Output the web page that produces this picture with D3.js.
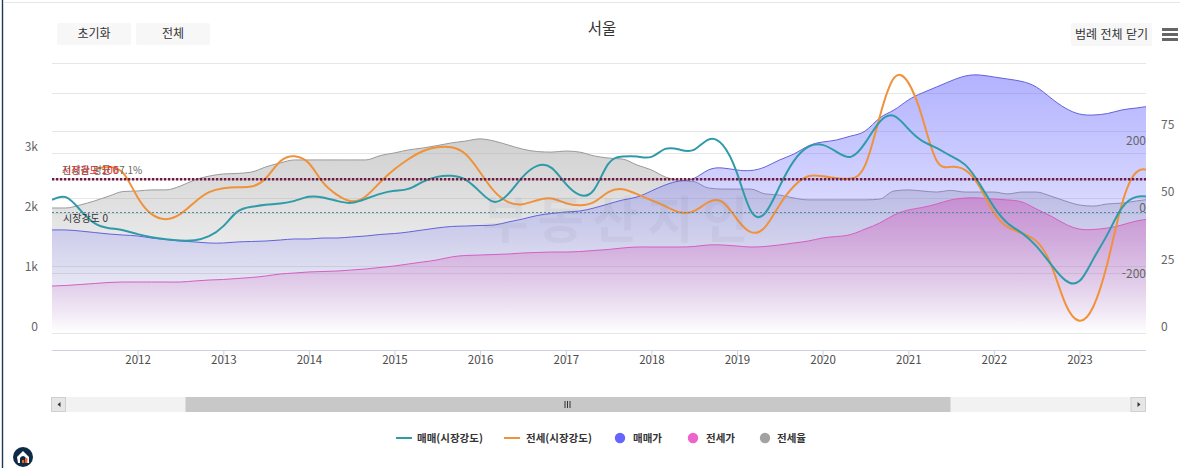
<!DOCTYPE html>
<html lang="ko">
<head>
<meta charset="utf-8">
<title>서울</title>
<script src="https://cdn.jsdelivr.net/npm/d3@7"></script>
<style>
html,body{margin:0;padding:0;background:#fff;overflow:hidden}
svg{display:block}
text{font-family:"Noto Sans CJK KR","Noto Sans",sans-serif}
</style>
</head>
<body>
<div id="chart"></div>
<script>
// ---- data (one sample every two months, starting Jan 2011) ----
const chartTitle = "서울";
const startDate = Date.UTC(2011, 0, 1);
const endDate = Date.UTC(2023, 9, 12);
const saleStrength = [38,46,8,-32,-47,-53,-65,-74,-80,-84,-83,-71,-41,2,17,23,27,35,47,45,35,29,41,56,65,71,92,107,110,98,62,32,56,107,140,134,86,53,68,146,168,168,167,191,189,188,219,203,119,5,-2,77,155,197,203,182,167,209,272,290,251,215,194,170,143,86,17,-32,-62,-101,-155,-203,-206,-140,-65,14,47,47];
const rentStrength = [null,null,null,131,137,118,46,-5,-20,-5,31,61,73,76,78,103,154,169,148,91,53,34,49,91,130,160,184,196,196,175,121,64,31,25,37,42,28,22,31,61,70,55,37,19,1,4,31,31,-20,-59,-44,22,79,109,109,103,102,142,287,404,390,287,157,137,127,77,-1,-44,-62,-86,-155,-272,-325,-283,-151,25,121,124];
const salePrice = [1717,1717,1700,1675,1650,1633,1617,1583,1558,1533,1517,1500,1500,1517,1525,1533,1550,1567,1567,1583,1583,1600,1617,1642,1658,1683,1717,1750,1775,1783,1792,1800,1850,1900,1958,1992,2017,2033,2083,2150,2217,2267,2367,2467,2533,2575,2717,2750,2717,2708,2767,2883,2983,3117,3183,3217,3283,3367,3583,3717,3883,4000,4100,4200,4283,4300,4267,4233,4192,4100,3917,3750,3650,3633,3658,3717,3750,3783];
const rentPrice = [783,792,808,825,842,850,850,850,850,850,867,883,892,908,925,950,983,1000,1017,1025,1033,1050,1067,1092,1117,1150,1183,1217,1267,1292,1300,1308,1317,1333,1342,1350,1350,1358,1375,1392,1417,1433,1433,1433,1433,1442,1467,1467,1450,1433,1442,1467,1500,1533,1583,1608,1642,1733,1833,1967,2050,2092,2150,2217,2250,2250,2233,2217,2183,2067,1950,1817,1733,1725,1750,1800,1867,1900];
const rentRatio = [46.3,46.3,47.4,48.9,50.7,52.4,52.6,53,53,54.4,56.7,58.1,58.9,59.1,59.6,61.5,63,64.1,64.1,64.1,64.1,64.1,64.1,65.7,66.7,67.8,68.5,69.4,70.4,71.1,71.9,71.1,69.6,68.1,67.2,67,67.4,67,65.6,64.8,64.4,62.2,60.4,57.8,56.5,56.1,53.7,53.3,53.3,53.3,51.5,51.1,50,49.3,49.3,49.3,49.3,49.3,49.6,52.6,53,52.6,52.2,52.8,52.2,52.2,52.2,51.5,52.2,52.2,50.7,48.9,47.4,47,47.8,48.1,48.9,49.6];
const yearTicks = [2012,2013,2014,2015,2016,2017,2018,2019,2020,2021,2022,2023];
const priceTicks = [0,1000,2000,3000,4000];
const priceLabels = ["0","1k","2k","3k",""];
const ratioTicks = [0,25,50,75,100];
const ratioLabels = ["0","25","50","75",""];
const strengthTicks = [-200,0,200];
const legendNames = ["매매(시장강도)","전세(시장강도)","매매가","전세가","전세율"];
const watermark = "부동산지인";

// ---- layout ----
const W = 1180, H = 468;
const L = 52, R = 1146, base = 333, axisY = 350;
const colors = {sale:"#2f9aa8", rent:"#f0923a", blue:"#6565ff", pink:"#ee62cc", gray:"#a2a2a2"};
const dates = d3.utcMonth.range(startDate, Date.UTC(2024,0,1), 2).slice(0, saleStrength.length);

const x = d3.scaleUtc().domain([startDate, endDate]).range([L, R]);
const yPrice = d3.scaleLinear().domain([0,4000]).range([base,93]);
const yRatio = d3.scaleLinear().domain([0,100]).range([base,63]);
const yStrength = d3.scaleLinear().domain([0,100]).range([212.5,179.2]);

const svg = d3.select("#chart").append("svg").attr("width",W).attr("height",H);
const defs = svg.append("defs");
defs.append("clipPath").attr("id","plot").append("rect")
  .attr("x",L).attr("y",40).attr("width",R-L).attr("height",base-40+1);

function gradient(id,color,top){
  const g = defs.append("linearGradient").attr("id",id).attr("x1",0).attr("x2",0).attr("y1",0).attr("y2",1);
  g.append("stop").attr("offset",0).attr("stop-color",color).attr("stop-opacity",top);
  g.append("stop").attr("offset",1).attr("stop-color",color).attr("stop-opacity",0);
}
gradient("gBlue",colors.blue,.5);
gradient("gPink","#d060bc",.5);
gradient("gGray",colors.gray,.5);

// frame
svg.append("line").attr("x1",2.5).attr("x2",2.5).attr("y1",0).attr("y2",H).attr("stroke","#1c3a55").attr("stroke-width",1.4);
svg.append("line").attr("x1",3).attr("x2",W).attr("y1",2.5).attr("y2",2.5).attr("stroke","#e3e6ea");

// grid
const grid = svg.append("g").attr("stroke","#e6e6e6").attr("stroke-width",1);
[...priceTicks.map(yPrice), ...ratioTicks.map(yRatio)].forEach(v=>{
  const yy = Math.round(v)+.5;
  grid.append("line").attr("x1",L).attr("x2",R).attr("y1",yy).attr("y2",yy);
});

// series
const plot = svg.append("g").attr("clip-path","url(#plot)");
const areaOf = (vals,scale,curve)=>d3.area().x((d,i)=>x(dates[i])).y0(base).y1(d=>scale(d)).curve(curve)(vals);
const lineOf = (vals,scale,curve)=>{
  const pts = vals.map((v,i)=>[dates[i],v]).filter(p=>p[1]!==null);
  return d3.line().x(p=>x(p[0])).y(p=>scale(p[1])).curve(curve)(pts);
};

plot.append("path").attr("d",areaOf(rentRatio,yRatio,d3.curveMonotoneX)).attr("fill","url(#gGray)");
plot.append("path").attr("d",lineOf(rentRatio,yRatio,d3.curveMonotoneX)).attr("fill","none").attr("stroke","#9a9a9a").attr("stroke-width",1);
plot.append("path").attr("d",areaOf(salePrice,yPrice,d3.curveNatural)).attr("fill","url(#gBlue)");
plot.append("path").attr("d",lineOf(salePrice,yPrice,d3.curveNatural)).attr("fill","none").attr("stroke","#6262dc").attr("stroke-width",1);
plot.append("path").attr("d",areaOf(rentPrice,yPrice,d3.curveNatural)).attr("fill","url(#gPink)");
plot.append("path").attr("d",lineOf(rentPrice,yPrice,d3.curveNatural)).attr("fill","none").attr("stroke","#d45fc0").attr("stroke-width",1);

// watermark
svg.append("text").attr("x",620).attr("y",238).attr("text-anchor","middle")
  .attr("font-size",50).attr("font-weight",700).attr("letter-spacing",9)
  .attr("fill","#70708a").attr("opacity",.07).text(watermark);

// reference lines
svg.append("line").attr("x1",L).attr("x2",R).attr("y1",yStrength(100)).attr("y2",yStrength(100))
  .attr("stroke","#e2413c").attr("stroke-opacity",.35).attr("stroke-width",2);
svg.append("line").attr("x1",L).attr("x2",R).attr("y1",yStrength(100)).attr("y2",yStrength(100))
  .attr("stroke","#5c2350").attr("stroke-width",2.4).attr("stroke-dasharray","2.2 1.8");
svg.append("line").attr("x1",L).attr("x2",R).attr("y1",yStrength(0)).attr("y2",yStrength(0))
  .attr("stroke","#4f8ea3").attr("stroke-width",1).attr("stroke-dasharray","2 2");

svg.append("text").attr("x",62).attr("y",174).attr("font-size",10).attr("fill","#666").text("전세율 평균 67.1%");
svg.append("text").attr("x",62).attr("y",174).attr("font-size",10).attr("fill","#e02a2a").text("시장강도 100");
svg.append("text").attr("x",63).attr("y",222).attr("font-size",10).attr("fill","#333").text("시장강도 0");

// strength lines
plot.append("path").attr("d",lineOf(rentStrength,yStrength,d3.curveNatural)).attr("fill","none").attr("stroke",colors.rent).attr("stroke-width",2);
plot.append("path").attr("d",lineOf(saleStrength,yStrength,d3.curveNatural)).attr("fill","none").attr("stroke",colors.sale).attr("stroke-width",2);

// axes
const gx = svg.append("g").attr("transform",`translate(0,${axisY})`)
  .call(d3.axisBottom(x).tickValues(yearTicks.map(y=>new Date(Date.UTC(y,0,1)))).tickSize(10).tickFormat(d3.utcFormat("%Y")).tickSizeOuter(0));
gx.select(".domain").attr("stroke","#ccd3de").attr("d",`M${L},0.5H${R}`);
gx.selectAll(".tick line").attr("stroke","#ccd3de");
gx.selectAll("text").attr("font-size",11.5).attr("fill","#4a4a4a").attr("y",10).attr("dy","0.35em").style("font-family",'"Noto Sans CJK KR",sans-serif');

function sideAxis(axis,tx,labels,dy,size){
  const g = svg.append("g").attr("transform",`translate(${tx},0)`)
    .call(axis.tickSize(0).tickPadding(0).tickFormat((d,i)=>labels?labels[i]:d));
  g.select(".domain").remove();
  g.selectAll("text").attr("font-size",size).attr("fill","#666").attr("dy",dy).style("font-family",'"Noto Sans CJK KR",sans-serif');
  return g;
}
sideAxis(d3.axisLeft(yPrice).tickValues(priceTicks),38,priceLabels,"-0.2em",12);
sideAxis(d3.axisRight(yRatio).tickValues(ratioTicks),1161,ratioLabels,"-0.2em",12);
sideAxis(d3.axisLeft(yStrength).tickValues(strengthTicks),1146,null,"-0.1em",12);

// title and buttons
function button(x0,y0,w,h,label,size){
  svg.append("rect").attr("x",x0).attr("y",y0).attr("width",w).attr("height",h).attr("rx",2).attr("fill","#f7f7f7");
  svg.append("text").attr("x",x0+w/2).attr("y",y0+h/2).attr("dy","0.35em").attr("text-anchor","middle")
    .attr("font-size",size).attr("fill","#333").text(label);
}
button(57,23,74,22,"초기화",12);
button(136,23,74,22,"전체",12);
button(1071,23,81,23,"범례 전체 닫기",12);
svg.append("text").attr("x",602).attr("y",29).attr("dy","0.35em").attr("text-anchor","middle")
  .attr("font-size",15.5).attr("fill","#333").text(chartTitle);
[28,33,38].forEach(yy=>svg.append("rect").attr("x",1162).attr("y",yy).attr("width",16).attr("height",3).attr("fill","#666"));

// scrollbar
const sb = svg.append("g");
sb.append("rect").attr("x",L).attr("y",397).attr("width",R-L).attr("height",15).attr("fill","#f2f2f2");
sb.append("rect").attr("x",185.5).attr("y",397).attr("width",765).attr("height",15).attr("fill","#c8c8c8");
sb.append("rect").attr("x",L-.5).attr("y",397.5).attr("width",14).attr("height",14).attr("fill","#e6e6e6").attr("stroke","#cfcfcf");
sb.append("rect").attr("x",R-15).attr("y",397.5).attr("width",14.5).attr("height",14).attr("fill","#e6e6e6").attr("stroke","#cfcfcf");
sb.append("path").attr("d","M60.5,402 L57.5,404.5 L60.5,407 Z").attr("fill","#333");
sb.append("path").attr("d","M1137.5,402 L1140.5,404.5 L1137.5,407 Z").attr("fill","#333");
[565,567.5,570].forEach(v=>sb.append("line").attr("x1",v).attr("x2",v).attr("y1",401).attr("y2",408).attr("stroke","#333"));

// legend
const lg = svg.append("g").attr("font-size",10.5).attr("font-weight",700).attr("fill","#333");
const legendLabelX = [417,526,633,706,777];
legendNames.forEach((n,i)=>{
  lg.append("text").attr("x",legendLabelX[i]).attr("y",438).attr("dy","0.35em").text(n);
});
lg.append("line").attr("x1",396).attr("x2",412).attr("y1",438).attr("y2",438).attr("stroke",colors.sale).attr("stroke-width",2);
lg.append("line").attr("x1",504).attr("x2",520).attr("y1",438).attr("y2",438).attr("stroke",colors.rent).attr("stroke-width",2);
[[620,colors.blue],[693,colors.pink],[765,colors.gray]].forEach(([cx,c])=>
  lg.append("circle").attr("cx",cx).attr("cy",438).attr("r",5.2).attr("fill",c));

// logo
const logo = svg.append("g").attr("transform","translate(23,457)");
logo.append("circle").attr("r",10).attr("fill","#0e2a47");
logo.append("path").attr("d","M-6,0 L0,-6 L6,0 L6,6 L-5,6 Z").attr("fill","#fff");
logo.append("path").attr("d","M-3,6 L-3,1 Q0,-3 3,1 L3,6 Z").attr("fill","#0e2a47");
logo.append("rect").attr("x",-1).attr("y",3).attr("width",2.2).attr("height",3).attr("fill","#e8622a");
logo.append("rect").attr("x",2).attr("y",1).attr("width",2.4).attr("height",5).attr("fill","#e8622a");
</script>
</body>
</html>
